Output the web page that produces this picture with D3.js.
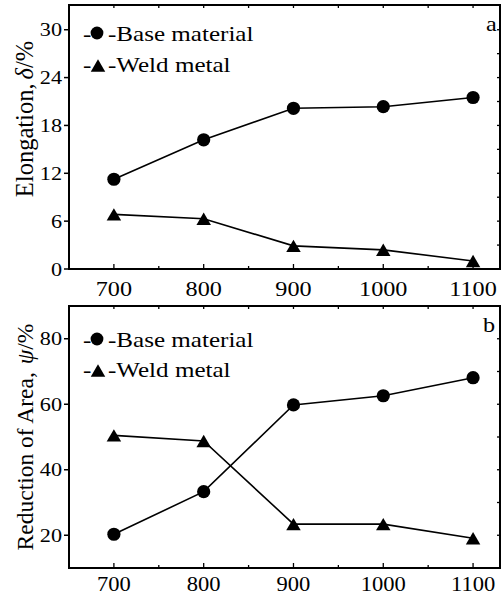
<!DOCTYPE html>
<html><head><meta charset="utf-8">
<script src="https://cdn.jsdelivr.net/npm/d3@7"></script>
<style>body{margin:0;background:#fff}svg{display:block}</style>
</head><body>
<script>
const temps = [700, 800, 900, 1000, 1100];
const xTicks = [700, 800, 900, 1000, 1100];
const elongBase = [11.25, 16.2, 20.15, 20.35, 21.5];
const elongWeld = [6.85, 6.3, 2.9, 2.4, 1.0];
const elongTicks = [0, 6, 12, 18, 24, 30];
const raBase = [20.3, 33.3, 59.8, 62.6, 68.1];
const raWeld = [50.5, 48.8, 23.4, 23.4, 19.1];
const raTicks = [20, 40, 60, 80];
const seriesNames = ["Base material", "Weld metal"];

const W = 504, H = 596;
const FONT = "Liberation Serif, Times New Roman, Times, serif";
const svg = d3.select("body").append("svg").attr("width", W).attr("height", H)
  .style("font-family", FONT);

function txt(g, x, y, s, size, sx, anchor) {
  return g.append("text").attr("transform", `translate(${x},${y}) scale(${sx},1)`)
    .attr("text-anchor", anchor || "start").style("font-family", FONT)
    .attr("font-size", size).attr("fill", "#000").text(s);
}

function triPath(s) {
  const h = s * 0.86;
  return `M0,${-h/2}L${s/2},${h/2}L${-s/2},${h/2}Z`;
}

function panel(opt) {
  const g = svg.append("g");
  const x = d3.scaleLinear().domain([650, 1130]).range([69, 500]);
  const y = d3.scaleLinear().domain(opt.yDomain).range([opt.bottom, opt.top]);
  const x0 = 69, x1 = 500, y0 = opt.bottom, y1 = opt.top;

  const xAll = d3.range(700, 1130, 50);
  xAll.forEach(v => {
    const major = v % 100 === 0;
    g.append("line").attr("x1", x(v)).attr("x2", x(v)).attr("y1", y0).attr("y2", y0 - (major ? 5 : 3))
      .attr("stroke", "#000").attr("stroke-width", 1.3);
    g.append("line").attr("x1", x(v)).attr("x2", x(v)).attr("y1", y1).attr("y2", y1 + 3)
      .attr("stroke", "#000").attr("stroke-width", 1.3);
  });
  const yAll = d3.range(opt.yDomain[0], opt.yDomain[1] + 0.01, opt.minorStep).filter(v => y(v) > y1 + 2 && y(v) < y0 - 2);
  yAll.forEach(v => {
    g.append("line").attr("x1", x1).attr("x2", x1 - 3).attr("y1", y(v)).attr("y2", y(v))
      .attr("stroke", "#000").attr("stroke-width", 1.3);
  });
  opt.ticks.forEach(v => {
    g.append("line").attr("x1", x0).attr("x2", x0 - 5).attr("y1", y(v)).attr("y2", y(v))
      .attr("stroke", "#000").attr("stroke-width", 1.5);
    txt(g, 62, y(v) + 6.5, String(v), 19, 1.17, "end");
  });
  xTicks.forEach(v => {
    txt(g, x(v), opt.xLabelY, String(v), opt.xLabelSize, 1.1, "middle");
  });

  g.append("rect").attr("x", x0).attr("y", y1).attr("width", x1 - x0).attr("height", y0 - y1)
    .attr("fill", "none").attr("stroke", "#000").attr("stroke-width", 2);

  const line = d3.line().x((d, i) => x(temps[i])).y(d => y(d));
  [opt.base, opt.weld].forEach((vals, k) => {
    g.append("path").attr("d", line(vals)).attr("fill", "none").attr("stroke", "#000").attr("stroke-width", 1.6);
    vals.forEach((v, i) => {
      if (k === 0) g.append("circle").attr("cx", x(temps[i])).attr("cy", y(v)).attr("r", 6.6).attr("fill", "#000");
      else g.append("path").attr("d", triPath(14.5)).attr("transform", `translate(${x(temps[i])},${y(v)})`).attr("fill", "#000");
    });
  });

  opt.legendY.forEach((ly, k) => {
    txt(g, 83, ly, "-", 22, 1.14, "start");
    if (k === 0) g.append("circle").attr("cx", 97).attr("cy", ly - 7.5).attr("r", 6.4).attr("fill", "#000");
    else g.append("path").attr("d", triPath(14.5)).attr("transform", `translate(98,${ly - 6})`).attr("fill", "#000");
    txt(g, 108, ly, "-" + seriesNames[k], 22, 1.14, "start");
  });

  txt(g, opt.letterX, opt.letterY, opt.letter, 22, 1.1, "start");

  const yl = g.append("text").attr("transform", `translate(${opt.ylabX},${opt.ylabY}) rotate(-90)`)
    .attr("text-anchor", "middle").style("font-family", FONT).attr("font-size", opt.ylabSize).attr("fill", "#000");
  yl.append("tspan").text(opt.ylab1);
  yl.append("tspan").attr("font-style", "italic").attr("dx", opt.ylabGap).text(opt.ylabSym);
  yl.append("tspan").text("/%");
}

panel({
  top: 5, bottom: 269, yDomain: [0, 33.1], ticks: elongTicks, minorStep: 3,
  base: elongBase, weld: elongWeld, xLabelY: 296, xLabelSize: 22,
  legendY: [40.5, 71.5], letter: "a", letterX: 486, letterY: 30.5,
  ylab1: "Elongation,", ylabSym: "δ", ylabGap: 4, ylabX: 33, ylabY: 119, ylabSize: 24.5
});
panel({
  top: 306, bottom: 568, yDomain: [10, 90], ticks: raTicks, minorStep: 10,
  base: raBase, weld: raWeld, xLabelY: 591, xLabelSize: 20.5,
  legendY: [346.5, 376.5], letter: "b", letterX: 483, letterY: 331.5,
  ylab1: "Reduction of Area, ", ylabSym: "ψ", ylabGap: 2, ylabX: 33, ylabY: 437, ylabSize: 23.5
});
</script>
</body></html>
